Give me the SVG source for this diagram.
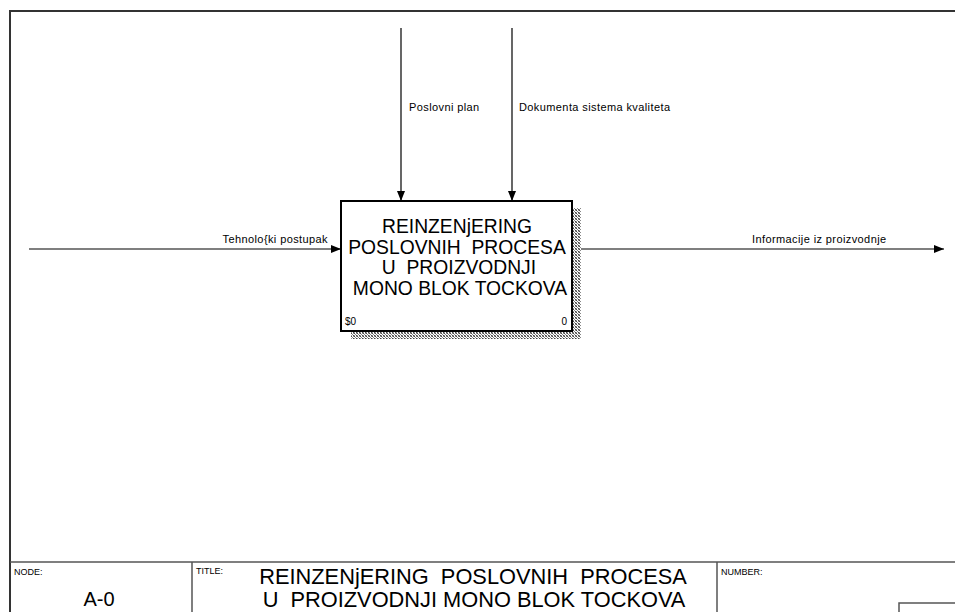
<svg xmlns="http://www.w3.org/2000/svg" width="955" height="612" viewBox="0 0 955 612">
<style>
  text { font-family: "Liberation Sans", Arial, sans-serif; fill: #000; }
  .lbl { font-size: 11px; letter-spacing: 0.4px; }
  .box-t { font-size: 19.3px; text-anchor: middle; }
  .small { font-size: 9px; }
  .frame { stroke: #333; stroke-width: 2; fill: none; }
  .div { stroke: #555; stroke-width: 1.5; fill: none; }
  .conn { stroke: #000; stroke-width: 1.2; fill: none; }
</style>
<defs>
  <marker id="ah" viewBox="0 0 10 8" refX="10" refY="4" markerWidth="10" markerHeight="8" markerUnits="userSpaceOnUse" orient="auto">
    <path d="M0,0 L10,4 L0,8 Z" fill="#000"/>
  </marker>
  <pattern id="hatch" width="3" height="3" patternUnits="userSpaceOnUse">
    <rect width="3" height="3" fill="#fff"/>
    <rect x="0" y="0" width="1" height="1" fill="#444"/>
    <rect x="1" y="1" width="1" height="1" fill="#888"/>
    <rect x="2" y="2" width="1" height="1" fill="#444"/>
    <rect x="2" y="0" width="1" height="1" fill="#999"/>
    <rect x="0" y="2" width="1" height="1" fill="#999"/>
  </pattern>
</defs>

<g id="frame">
  <path class="frame" d="M10,612 L10,11 L955,11"/>
  <path class="div" d="M10,562 L955,562 M192,562 L192,612 M717,562 L717,612 M899,612 L899,603 L955,603"/>
  <text x="14" y="575" class="small">NODE:</text>
  <text x="99" y="606" font-size="20" text-anchor="middle">A-0</text>
  <text x="196" y="574" class="small">TITLE:</text>
  <text x="473" y="584" font-size="21.8" text-anchor="middle" xml:space="preserve">REINZENjERING  POSLOVNIH  PROCESA</text>
  <text x="474" y="607" font-size="21.8" text-anchor="middle" xml:space="preserve">U  PROIZVODNJI MONO BLOK TOCKOVA</text>
  <text x="721" y="575" class="small">NUMBER:</text>
</g>

<g id="connectors">
  <line class="conn" x1="401" y1="28" x2="401" y2="201" marker-end="url(#ah)"/>
  <line class="conn" x1="512" y1="28" x2="512" y2="201" marker-end="url(#ah)"/>
  <line class="conn" x1="29" y1="249" x2="341" y2="249" marker-end="url(#ah)"/>
  <line class="conn" x1="572" y1="249" x2="944" y2="249" marker-end="url(#ah)"/>
  <text x="409" y="111" class="lbl">Poslovni plan</text>
  <text x="519" y="111" class="lbl">Dokumenta sistema kvaliteta</text>
  <text x="328" y="243" class="lbl" text-anchor="end">Tehnolo{ki postupak</text>
  <text x="752" y="243" class="lbl">Informacije iz proizvodnje</text>
</g>

<g id="node-A0">
  <rect x="573" y="208" width="8" height="131" fill="url(#hatch)"/>
  <rect x="351" y="332" width="230" height="7" fill="url(#hatch)"/>
  <rect x="341" y="201" width="231" height="130" fill="#fff" stroke="#000" stroke-width="2"/>
  <text class="box-t" x="457" y="233">REINZENjERING</text>
  <text class="box-t" x="457" y="254" xml:space="preserve">POSLOVNIH  PROCESA</text>
  <text class="box-t" x="459" y="274" xml:space="preserve">U  PROIZVODNJI</text>
  <text class="box-t" x="460" y="295">MONO BLOK TOCKOVA</text>
  <text x="345" y="325" font-size="10">$0</text>
  <text x="567" y="325" font-size="10" text-anchor="end">0</text>
</g>
</svg>
